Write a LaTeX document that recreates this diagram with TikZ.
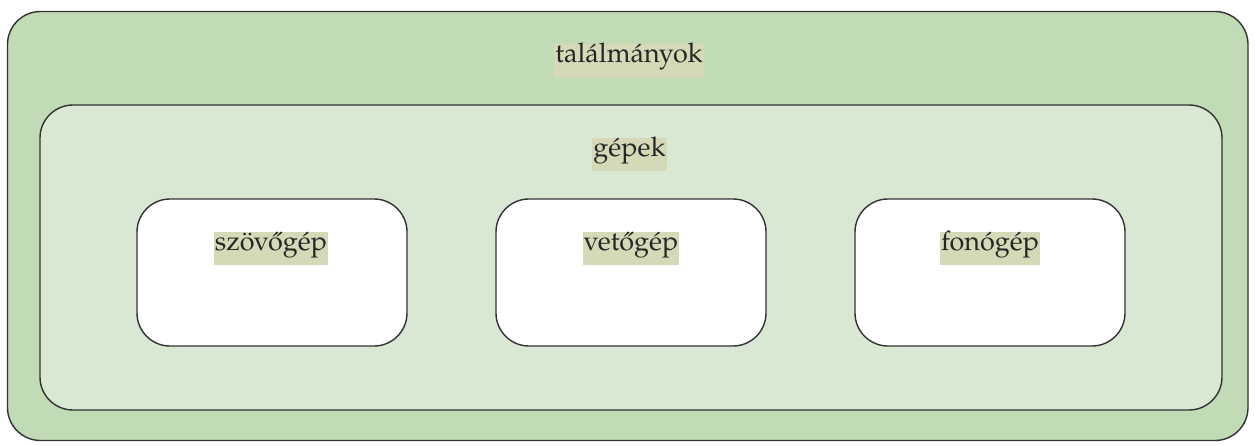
\documentclass[tikz,border=0pt]{standalone}
\usepackage{fontspec}
\setmainfont{TeX Gyre Pagella}
\definecolor{outerg}{HTML}{C0DBB5}
\definecolor{midg}{HTML}{D8E8D2}
\definecolor{hl}{HTML}{D6D9B8}
\definecolor{edge}{HTML}{333333}
\tikzset{
  box/.style={draw=edge, line width=1.4pt, rounded corners=33pt},
  lbl/.style={fill=hl, font=\fontsize{27}{32}\selectfont, text=black!85, inner xsep=1pt, inner ysep=0pt, minimum height=33pt, text depth=0.22em, text height=0.7em}
}
\begin{document}
\begin{tikzpicture}[x=1pt,y=-1pt]
\useasboundingbox (0,0) rectangle (1255,445);
\draw[box, fill=outerg] (7.5,11.5) rectangle (1248,440.5);
\draw[box, fill=midg] (40,105) rectangle (1222,410);
\draw[box, fill=white] (137,199) rectangle (407,346);
\draw[box, fill=white] (496,199) rectangle (766,346);
\draw[box, fill=white] (855,199) rectangle (1125,346);
\node[lbl] (t) at (629,60.5) {találmányok};
\node[lbl] (g) at (629.5,154.5) {gépek};
\node[lbl] (a) at (271,248.5) {szövőgép};
\node[lbl] (b) at (631,248.5) {vetőgép};
\node[lbl] (c) at (990,248.5) {fonógép};
\end{tikzpicture}
\end{document}
